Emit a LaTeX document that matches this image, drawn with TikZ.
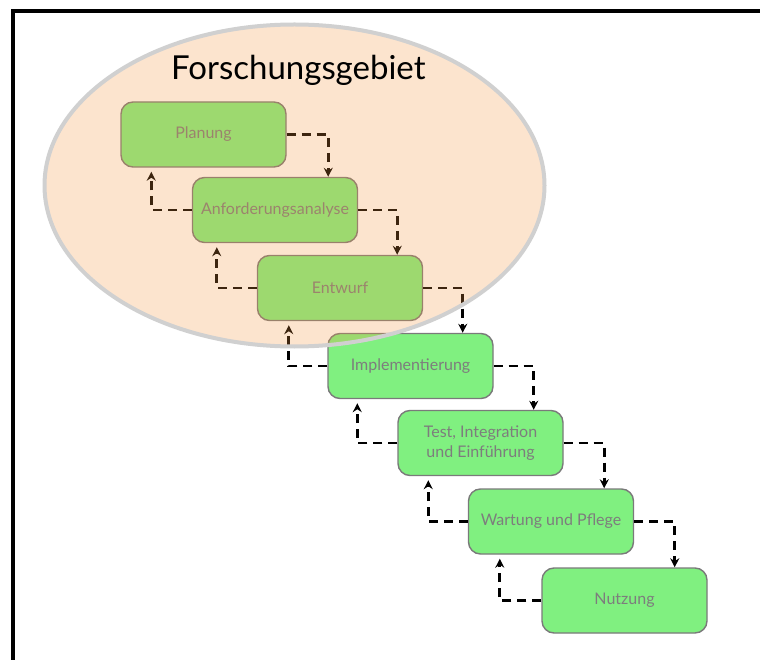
\documentclass[tikz,border=0pt]{standalone}
\usepackage{fontspec}
\setmainfont{Lato}
\usetikzlibrary{arrows.meta}
\definecolor{boxfill}{RGB}{128,240,128}
\definecolor{boxline}{RGB}{122,122,122}
\definecolor{boxtext}{RGB}{125,125,125}
\definecolor{peach}{RGB}{247,151,63}
\definecolor{rimgray}{RGB}{208,208,208}
\tikzset{
  phase/.style={draw=boxline, line width=1.4pt, fill=boxfill, rounded corners=12pt,
    minimum width=165pt, minimum height=65pt, inner sep=2pt, align=center,
    text=boxtext, font=\fontsize{16}{20}\selectfont},
  fwd/.style={draw=black, line width=2.9pt, dash pattern=on 9pt off 6pt,
    -{Stealth[length=9pt,width=9pt]}},
  back/.style={draw=black, line width=2.9pt, dash pattern=on 9pt off 6pt,
    -{Stealth[length=9pt,width=9pt]}, shorten >=4pt},
}
\begin{document}
\begin{tikzpicture}[x=1pt,y=-1pt]
\useasboundingbox (0,0) rectangle (760,660);
\fill[white] (0,0) rectangle (760,660);
% frame (top and left only)
\draw[line width=4pt, line cap=butt] (13,660) -- (13,11) -- (760,11);

% phases
\node[phase] (plan) at (203.5,134.5) {Planung};
\node[phase] (anf)  at (275,210)    {Anforderungsanalyse};
\node[phase] (ent)  at (340,288)    {Entwurf};
\node[phase] (impl) at (410.5,366)  {Implementierung};
\node[phase] (test) at (480.5,443)  {Test, Integration\\und Einführung};
\node[phase] (wart) at (551,521.5)  {Wartung und Pflege};
\node[phase] (nutz) at (624.5,600.5){Nutzung};

% forward connectors
\draw[fwd] (plan.east) -| ([xshift=-30pt]anf.north east);
\draw[fwd] (anf.east)  -| ([xshift=-26pt]ent.north east);
\draw[fwd] (ent.east)  -| ([xshift=-31pt]impl.north east);
\draw[fwd] (impl.east) -| ([xshift=-30pt]test.north east);
\draw[fwd] (test.east) -| ([xshift=-30pt]wart.north east);
\draw[fwd] (wart.east) -| ([xshift=-33pt]nutz.north east);

% backward connectors
\draw[back] (anf.west)  -| ([xshift=31pt]plan.south west);
\draw[back] (ent.west)  -| ([xshift=25pt]anf.south west);
\draw[back] (impl.west) -| ([xshift=32pt]ent.south west);
\draw[back] (test.west) -| ([xshift=30pt]impl.south west);
\draw[back] (wart.west) -| ([xshift=31pt]test.south west);
\draw[back] (nutz.west) -| ([xshift=32pt]wart.south west);

% research area overlay
\coordinate (ec) at (294.5,185.5);
\fill[peach, fill opacity=0.25] (ec) ellipse [x radius=250, y radius=161];
\draw[rimgray, line width=4pt] (ec) ellipse [x radius=250, y radius=161];

\node[anchor=base west, inner sep=0pt, font=\fontsize{33}{38}\selectfont] (title) at (171,80) {Forschungsgebiet};
\end{tikzpicture}
\end{document}
